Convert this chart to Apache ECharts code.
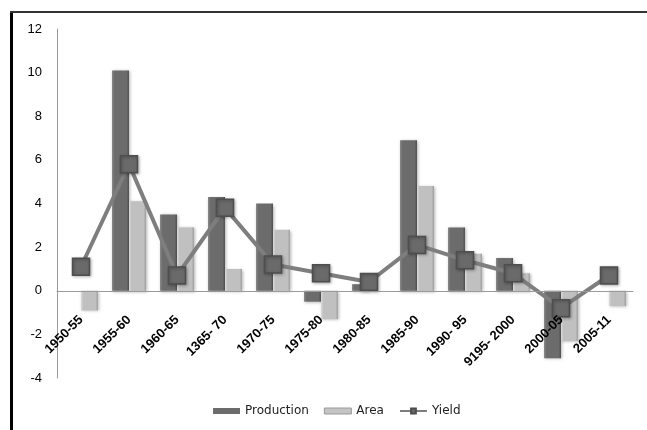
<!DOCTYPE html>
<html>
<head>
<meta charset="utf-8">
<script src="https://cdn.jsdelivr.net/npm/echarts@6/dist/echarts.min.js"></script>
<style>
  html, body { margin: 0; padding: 0; background: #ffffff; }
  #chart { width: 647px; height: 430px; }
</style>
</head>
<body>
<div id="chart"></div>
<script>
// Growth rates by period
const periods = ['1950-55', '1955-60', '1960-65', '1365- 70', '1970-75', '1975-80',
                 '1980-85', '1985-90', '1990- 95', '9195- 2000', '2000-05', '2005-11'];
const production = [0, 10.1, 3.5, 4.3, 4.0, -0.5, 0.3, 6.9, 2.9, 1.5, -3.1, 0];
const area = [-0.9, 4.1, 2.9, 1.0, 2.8, -1.3, 0, 4.8, 1.7, 0.8, -2.3, -0.7];
const yieldVals = [1.1, 5.8, 0.7, 3.8, 1.2, 0.8, 0.4, 2.1, 1.4, 0.8, -0.8, 0.7];
const yTicks = { min: -4, max: 12, interval: 2 };

const grid = { left: 57, right: 14, top: 29, bottom: 52 };
const plotHeight = 430 - grid.top - grid.bottom;
// lift the category axis (line and labels) up to the zero value
const zeroLift = plotHeight * (0 - yTicks.min) / (yTicks.max - yTicks.min);

const chart = echarts.init(document.getElementById('chart'), null, { renderer: 'canvas' });

function bevel(light, mid, dark) {
  return new echarts.graphic.LinearGradient(0, 0, 1, 0, [
    { offset: 0, color: light },
    { offset: 0.15, color: mid },
    { offset: 0.85, color: mid },
    { offset: 1, color: dark }
  ]);
}

chart.setOption({
  animation: false,
  backgroundColor: '#ffffff',
  graphic: [
    { type: 'rect', shape: { x: 10, y: 11, width: 3, height: 419 }, style: { fill: '#000' }, z: 100 },
    { type: 'rect', shape: { x: 10, y: 11, width: 637, height: 2 }, style: { fill: '#333' }, z: 100 }
  ],
  grid: Object.assign({ outerBoundsMode: 'none', containLabel: false }, grid),
  legend: {
    bottom: 8,
    left: 208,
    itemGap: 15,
    textStyle: { fontFamily: 'DejaVu Sans', fontSize: 12, color: '#222' },
    data: [
      { name: 'Production', icon: 'rect', itemStyle: { color: '#6c6c6c' } },
      { name: 'Area', icon: 'rect', itemStyle: { color: '#c4c4c4', borderColor: '#999', borderWidth: 1 } },
      { name: 'Yield' }
    ],
    itemWidth: 27,
    itemHeight: 6
  },
  xAxis: {
    type: 'category',
    data: periods,
    position: 'bottom',
    offset: -zeroLift,
    z: 10,
    axisLine: { onZero: false, lineStyle: { color: '#9a9a9a', width: 1 } },
    axisTick: { show: false },
    axisLabel: {
      interval: 0,
      rotate: 45,
      margin: 27,
      fontFamily: 'Liberation Sans',
      fontWeight: 'bold',
      fontSize: 13,
      color: '#000'
    }
  },
  yAxis: {
    type: 'value',
    min: yTicks.min,
    max: yTicks.max,
    interval: yTicks.interval,
    axisLine: { show: true, lineStyle: { color: '#9a9a9a' } },
    axisTick: { show: false },
    splitLine: { show: false },
    axisLabel: { margin: 15, fontFamily: 'Liberation Sans', fontSize: 13, color: '#000' }
  },
  series: [
    {
      name: 'Production',
      type: 'bar',
      data: production,
      barWidth: 17,
      barGap: '0%',
      itemStyle: {
        color: bevel('#8a8a8a', '#6c6c6c', '#505050'),
        shadowColor: 'rgba(0,0,0,0.3)', shadowBlur: 3, shadowOffsetX: 1, shadowOffsetY: 1
      }
    },
    {
      name: 'Area',
      type: 'bar',
      data: area,
      barWidth: 17,
      itemStyle: {
        color: bevel('#dadada', '#c0c0c0', '#a0a0a0'),
        shadowColor: 'rgba(0,0,0,0.3)', shadowBlur: 3, shadowOffsetX: 1, shadowOffsetY: 1
      }
    },
    {
      name: 'Yield',
      type: 'line',
      data: yieldVals,
      z: 5,
      symbol: 'rect',
      symbolSize: 17,
      lineStyle: { color: '#7e7e7e', width: 4 },
      itemStyle: {
        color: '#6a6a6a',
        borderColor: '#4e4e4e',
        borderWidth: 1.5,
        shadowColor: 'rgba(0,0,0,0.3)', shadowBlur: 3, shadowOffsetX: 1, shadowOffsetY: 1
      }
    }
  ]
});
</script>
</body>
</html>
